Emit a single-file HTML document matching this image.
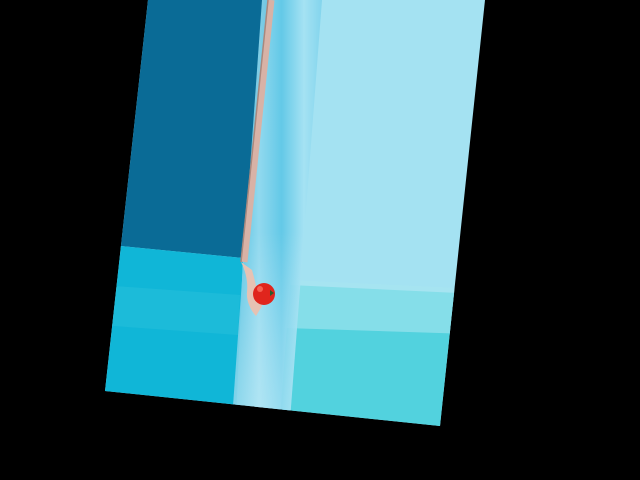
<!DOCTYPE html>
<html><head><meta charset="utf-8"><style>
html,body{margin:0;padding:0;background:#000;width:640px;height:480px;overflow:hidden}
</style></head><body>
<svg width="640" height="480" viewBox="0 0 640 480" xmlns="http://www.w3.org/2000/svg">
<defs>
<clipPath id="panel"><polygon points="148,0 485,0 440,426 105,391"/></clipPath>
<linearGradient id="strip" x1="0" x2="1" y1="0" y2="0">
<stop offset="0" stop-color="#3fb9dc"/><stop offset="0.3" stop-color="#8fd8ee"/><stop offset="0.55" stop-color="#5cc6e6"/><stop offset="0.8" stop-color="#a5e2f3"/><stop offset="1" stop-color="#7fd3ec"/>
</linearGradient>
<linearGradient id="stripfade" x1="0" x2="0" y1="0" y2="1">
<stop offset="0.55" stop-color="#ffffff" stop-opacity="0"/><stop offset="1" stop-color="#d8f4fb" stop-opacity="0.45"/>
</linearGradient>
</defs>
<rect width="640" height="480" fill="#000"/>
<g clip-path="url(#panel)">
<rect x="0" y="0" width="640" height="480" fill="#a4e2f2"/>
<polygon points="290,285 500,295 500,440 280,420" fill="#52d2de"/>
<polygon points="290,280 500,290 500,335 285,328" fill="#a8e6f0" opacity="0.6"/>
<polygon points="100,0 268,0 243,258 100,244" fill="#0a6b96"/>
<polygon points="100,244 243,258 236,420 100,400" fill="#10b6d7"/>
<polygon points="100,285 240,295 238,335 100,325" fill="#2cc0dc" opacity="0.45"/>
<polygon points="262,0 322,0 290,420 232,420" fill="url(#strip)" opacity="0.9"/>
<polygon points="262,0 322,0 290,420 232,420" fill="url(#stripfade)"/>
</g>
<line x1="271" y1="0" x2="244" y2="262" stroke="#d8b2a6" stroke-width="7"/>
<line x1="268" y1="0" x2="241" y2="262" stroke="#a8887e" stroke-width="1.5"/>
<path d="M241,262 C246,272 248,282 247,292 C246,302 252,312 256,316 L262,306 C258,296 256,284 252,270 Z" fill="#e6c2b3"/>
<circle cx="264" cy="294" r="11" fill="#e0251d"/>
<circle cx="260" cy="289" r="3" fill="#ff7a6a" opacity="0.7"/>
<path d="M270,290 l4,3 l-4,3 z" fill="#2a5a2a"/>
</svg>
</body></html>
